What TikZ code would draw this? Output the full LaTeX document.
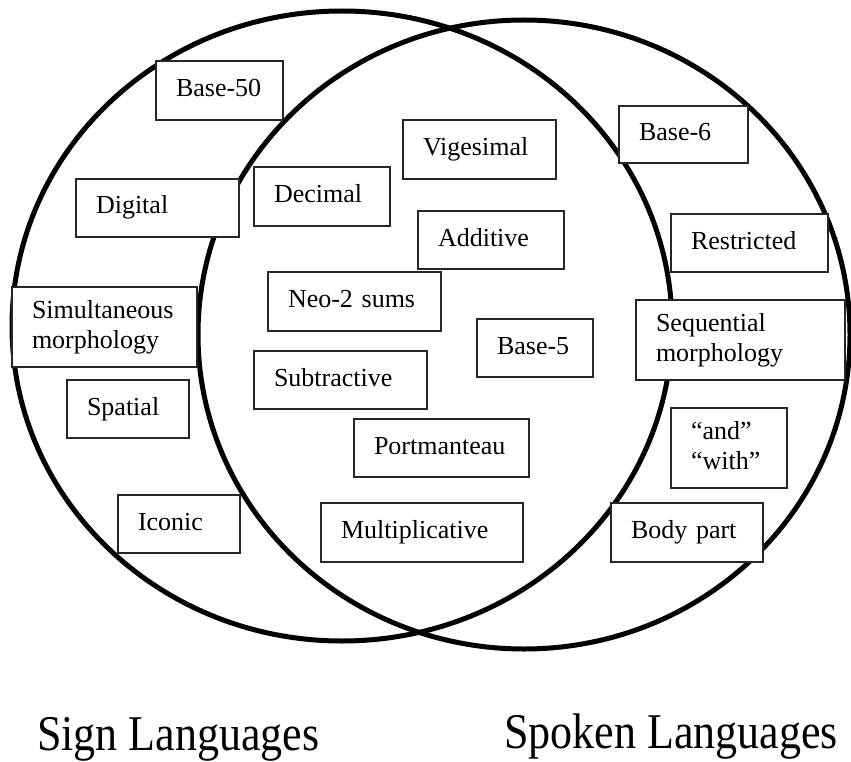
\documentclass[tikz,border=0pt]{standalone}
\usepackage{fontspec}
\setmainfont{Liberation Serif}
\newfontfamily\titlefont[FakeStretch=0.88]{Liberation Serif}

\begin{document}
\begin{tikzpicture}[
  x=1pt, y=-1pt,
  setline/.style={line width=5pt},
  itembox/.style={draw=black!85, line width=1.1pt, fill=white, align=left,
    inner xsep=20pt, inner ysep=0pt, font=\fontsize{26}{30}\selectfont,
    execute at begin node=\strut, execute at end node=\strut},
  setlabel/.style={anchor=base west, inner sep=0pt,
    font=\titlefont\fontsize{50}{60}\selectfont},
]
  \useasboundingbox (0,0) rectangle (851,762);

  \draw[setline] (342,326) ellipse [x radius=330pt, y radius=315pt];
  \draw[setline] (524,334.5) ellipse [x radius=326pt, y radius=314.5pt];

  \node[itembox, text width=87pt, minimum height=59pt] (base50) at (219.5,90.5) {Base-50};
  \node[itembox, text width=123pt, minimum height=58pt] (digital) at (157.5,208) {Digital};
  \node[itembox, text width=145pt, minimum height=80pt] (simult) at (104.5,327) {Simultaneous\\morphology};
  \node[itembox, text width=82pt, minimum height=58pt] (spatial) at (128,409) {Spatial};
  \node[itembox, text width=82pt, minimum height=58pt] (iconic) at (179,524) {Iconic};

  \node[itembox, text width=96pt, minimum height=59pt] (decimal) at (322,196.5) {Decimal};
  \node[itembox, text width=113pt, minimum height=59pt] (vigesimal) at (479.5,149.5) {Vigesimal};
  \node[itembox, text width=106pt, minimum height=58pt] (additive) at (491,240) {Additive};
  \node[itembox, text width=133pt, minimum height=59pt] (neotwo) at (354.5,301.5) {Neo-2 sums};
  \node[itembox, text width=76pt, minimum height=58pt] (base5) at (535,348) {Base-5};
  \node[itembox, text width=133pt, minimum height=58pt] (subtract) at (340.5,380) {Subtractive};
  \node[itembox, text width=135pt, minimum height=58pt] (portman) at (441.5,448) {Portmanteau};
  \node[itembox, text width=162pt, minimum height=59pt] (multi) at (422,532.5) {Multiplicative};

  \node[itembox, text width=89pt, minimum height=57pt] (base6) at (683.5,134.5) {Base-6};
  \node[itembox, text width=117pt, minimum height=58pt] (restrict) at (749.5,243) {Restricted};
  \node[itembox, text width=169pt, minimum height=80pt] (sequent) at (740.5,340) {Sequential\\morphology};
  \node[itembox, text width=76pt, minimum height=80pt] (andwith) at (729,448) {“and”\\ “with”};
  \node[itembox, text width=112pt, minimum height=59pt] (bodypart) at (687,532.5) {Body part};

  \node[setlabel] (signlang) at (37,750) {Sign Languages};
  \node[setlabel] (spokenlang) at (504,748) {Spoken Languages};
\end{tikzpicture}
\end{document}
